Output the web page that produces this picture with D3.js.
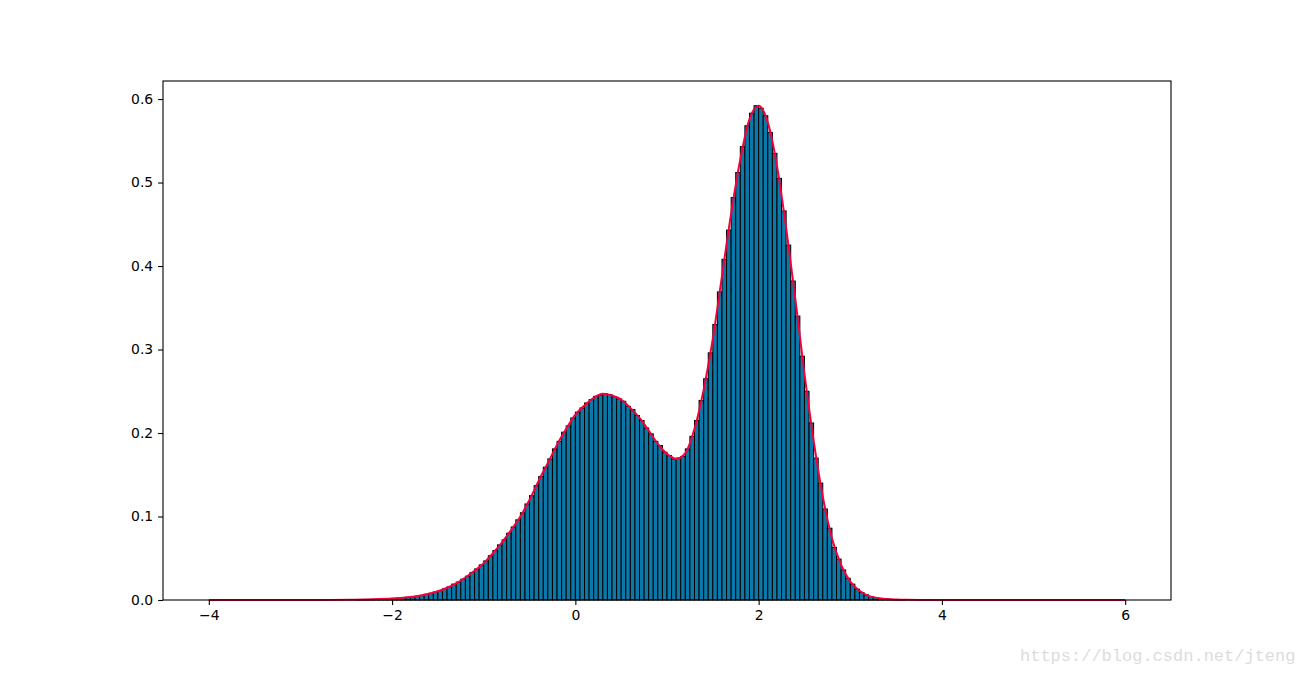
<!DOCTYPE html>
<html>
<head>
<meta charset="utf-8">
<script src="https://cdn.jsdelivr.net/npm/d3@7"></script>
<style>
  body { margin: 0; background: #fff; }
  svg { display: block; font-family: "DejaVu Sans", sans-serif; }
</style>
</head>
<body>
<svg width="1301" height="674"></svg>
<script>
// histogram: left edge of first bin, bin width, densities
var binStart = -2.4,
	binWidth = 0.05;
var binHeights = [
	0.0003, 0.0004, 0.0006, 0.0007, 0.0009, 0.0011, 0.0013, 0.0016, 0.0019, 0.0023,
	0.0027, 0.0032, 0.0039, 0.0046, 0.0055, 0.0068, 0.0080, 0.0096, 0.0112, 0.0136,
	0.0158, 0.0190, 0.0215, 0.0250, 0.0285, 0.0330, 0.0372, 0.0420, 0.0468, 0.0530,
	0.0592, 0.0660, 0.0720, 0.0800, 0.0875, 0.0960, 0.1045, 0.1150, 0.1250, 0.1370,
	0.1480, 0.1590, 0.1690, 0.1810, 0.1900, 0.2010, 0.2085, 0.2180, 0.2250, 0.2300,
	0.2360, 0.2400, 0.2440, 0.2455, 0.2470, 0.2460, 0.2435, 0.2410, 0.2380, 0.2320,
	0.2280, 0.2210, 0.2150, 0.2060, 0.1990, 0.1900, 0.1850, 0.1770, 0.1730, 0.1690,
	0.1700, 0.1720, 0.1810, 0.1960, 0.2150, 0.2390, 0.2650, 0.2960, 0.3300, 0.3690,
	0.4080, 0.4430, 0.4820, 0.5120, 0.5430, 0.5680, 0.5830, 0.5920, 0.5890, 0.5800,
	0.5600, 0.5350, 0.5050, 0.4660, 0.4250, 0.3820, 0.3400, 0.2920, 0.2500, 0.2120,
	0.1700, 0.1400, 0.1090, 0.0860, 0.0630, 0.0490, 0.0360, 0.0260, 0.0190, 0.0130,
	0.0090, 0.0062, 0.0042, 0.0030, 0.0020, 0.0013, 0.0009, 0.0006, 0.0004, 0.0003
];

// density curve
var curveX = [-4, -3, -2.7, -2.4, -2.2, -2.0, -1.9, -1.8, -1.7, -1.6, -1.5, -1.4, -1.3, -1.2, -1.1,
	-1.0, -0.9, -0.8, -0.7, -0.6, -0.5, -0.4, -0.3, -0.2, -0.1, 0.0, 0.1, 0.2, 0.3, 0.4,
	0.5, 0.6, 0.7, 0.8, 0.9, 1.0, 1.1, 1.2, 1.3, 1.4, 1.5, 1.6, 1.7, 1.8, 1.9,
	2.0, 2.1, 2.2, 2.3, 2.4, 2.5, 2.6, 2.7, 2.8, 2.9, 3.0, 3.1, 3.2, 3.3, 3.4,
	3.5, 3.6, 3.8, 4, 5, 6];
var curveY = [0, 0, 0.0001, 0.0003, 0.0008, 0.0017, 0.0025, 0.0035, 0.0051, 0.0074, 0.0104, 0.0147, 0.020, 0.027, 0.035,
	0.044, 0.056, 0.069, 0.084, 0.100, 0.120, 0.143, 0.164, 0.186, 0.205, 0.222, 0.233, 0.242, 0.247, 0.245,
	0.240, 0.230, 0.218, 0.203, 0.187, 0.175, 0.169, 0.176, 0.205, 0.252, 0.313, 0.388, 0.463, 0.528, 0.576,
	0.592, 0.572, 0.520, 0.446, 0.361, 0.271, 0.191, 0.124, 0.074, 0.042, 0.022, 0.011, 0.005, 0.0025, 0.0011,
	0.0005, 0.0002, 0.0001, 0, 0, 0];

var xTicks = [-4, -2, 0, 2, 4, 6],
	yTicks = [0, 0.1, 0.2, 0.3, 0.4, 0.5, 0.6];

var svg = d3.select("svg"),
	margin = {left: 163, right: 130, top: 81, bottom: 74},
	width = 1301 - margin.left - margin.right,
	height = 674 - margin.top - margin.bottom;

var x = d3.scaleLinear().domain([-4.5, 6.5]).range([0, width]),
	y = d3.scaleLinear().domain([0, 0.6216]).range([height, 0]);

var g = svg.append("g").attr("transform", "translate(" + margin.left + "," + margin.top + ")");

var bins = binHeights.map(function(h, i) {
	return {x0: binStart + i * binWidth, x1: binStart + (i + 1) * binWidth, h: h};
});

g.selectAll("rect.bar")
	.data(bins)
	.enter().append("rect")
	.attr("class", "bar")
	.attr("x", function(d) { return x(d.x0); })
	.attr("y", function(d) { return y(d.h); })
	.attr("width", function(d) { return x(d.x1) - x(d.x0); })
	.attr("height", function(d) { return y(0) - y(d.h); })
	.attr("fill", "#0a78a8")
	.attr("stroke", "#000")
	.attr("stroke-width", 1);

var line = d3.line()
	.x(function(d) { return x(d[0]); })
	.y(function(d) { return y(d[1]); })
	.curve(d3.curveMonotoneX);

g.append("path")
	.datum(d3.zip(curveX, curveY))
	.attr("d", line)
	.attr("fill", "none")
	.attr("stroke", "#f5003a")
	.attr("stroke-width", 2);

var fmtX = function(d) { return d < 0 ? "\u2212" + Math.abs(d) : String(d); };

var xAxis = g.append("g")
	.attr("transform", "translate(0," + height + ")")
	.call(d3.axisBottom(x).tickValues(xTicks).tickFormat(fmtX).tickSize(4.9).tickPadding(4.9));
var yAxis = g.append("g")
	.call(d3.axisLeft(y).tickValues(yTicks).tickFormat(d3.format(".1f")).tickSize(4.9).tickPadding(4.9));

[xAxis, yAxis].forEach(function(a) {
	a.select(".domain").remove();
	a.selectAll("text").attr("font-family", "DejaVu Sans").attr("font-size", "13.9px").attr("fill", "#000");
	a.selectAll("line").attr("stroke", "#000").attr("stroke-width", 1.1);
});

g.append("rect")
	.attr("width", width)
	.attr("height", height)
	.attr("fill", "none")
	.attr("stroke", "#000")
	.attr("stroke-width", 1.1);

// watermark
svg.append("text")
	.attr("x", 1020).attr("y", 661)
	.attr("font-family", "Liberation Mono").attr("font-size", "17px")
	.attr("fill", "#dcdcdc")
	.text("https://blog.csdn.net/jteng");
</script>
</body>
</html>
